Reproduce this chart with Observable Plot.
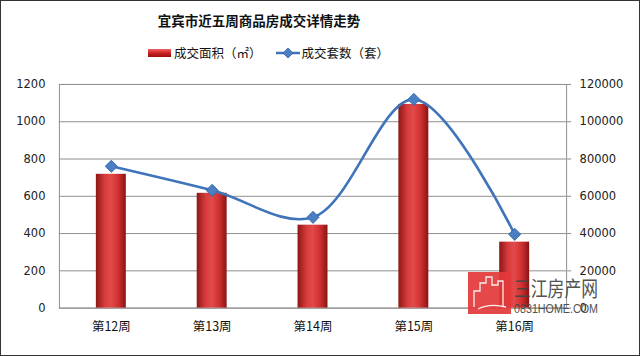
<!DOCTYPE html>
<html>
<head>
<meta charset="utf-8">
<script src="https://cdn.jsdelivr.net/npm/d3@7"></script>
<script src="https://cdn.jsdelivr.net/npm/@observablehq/plot@0.6"></script>
<style>
  html, body { margin: 0; padding: 0; background: #fff; }
  #wrap { position: relative; width: 640px; height: 356px; box-sizing: border-box; border: 1px solid #333; overflow: hidden; background: #fff; font-family: "Noto Sans CJK SC", sans-serif; }
  #title { position: absolute; left: 0; width: 516px; top: 8px; text-align: center; font-size: 13.5px; font-weight: bold; color: #111; line-height: 22px; }
  #legend { position: absolute; top: 43px; left: 147px; height: 18px; font-size: 12.5px; color: #111; line-height: 18px; white-space: nowrap; }
  #chart { position: absolute; left: -1px; top: 65px; }
  #wm { position: absolute; left: 467px; top: 270px; }
</style>
</head>
<body>
<div id="wrap">
  <div id="title">宜宾市近五周商品房成交详情走势</div>
  <div id="legend"></div>
  <div id="chart"></div>
  <svg id="wm" width="135" height="46" viewBox="0 0 135 46">
    <rect x="0" y="1" width="43" height="42" fill="#e2383a" opacity="0.92"></rect>
    <path d="M6,36 L6,20 L12,20 L12,12 L18,12 L18,6 L24,6 L24,14 L30,14 L30,10 L35,10 L35,36" fill="none" stroke="#fff" stroke-width="1.3" opacity="0.9"></path>
    <path d="M10,38 Q22,32 38,36" fill="none" stroke="#fff" stroke-width="1.3" opacity="0.9"></path>
    <text x="46" y="25" font-family="Noto Sans CJK SC" font-size="21" fill="#444" textLength="84" lengthAdjust="spacingAndGlyphs" opacity="0.92">三江房产网</text>
    <text x="46" y="42" font-family="Liberation Sans" font-size="13" fill="#444" textLength="84" lengthAdjust="spacingAndGlyphs" opacity="0.92">0831HOME.COM</text>
  </svg>
</div>
<script>
const weeks = ["第12周", "第13周", "第14周", "第15周", "第16周"];
const areaValues = [718, 616, 445, 1093, 354];          // 成交面积（㎡）
const unitValues = [76100, 63200, 48700, 112000, 39600]; // 成交套数（套）
const leftTicks = [0, 200, 400, 600, 800, 1000, 1200];
const rightTicks = [0, 20000, 40000, 60000, 80000, 100000, 120000];
const seriesNames = ["成交面积（㎡）", "成交套数（套）"];

const ratio = rightTicks[rightTicks.length - 1] / leftTicks[leftTicks.length - 1];
const data = weeks.map((w, i) => ({ week: w, area: areaValues[i], units: unitValues[i] }));

// legend
const legend = document.getElementById("legend");
legend.innerHTML =
  `<span style="display:inline-block;width:23px;height:8px;vertical-align:middle;margin-right:3px;margin-top:-3px;background:linear-gradient(180deg,#e66,#c22 50%,#911);"></span>` +
  `<span>${seriesNames[0]}</span>` +
  `<svg width="24" height="12" style="vertical-align:middle;margin-left:14px;margin-right:2px;margin-top:-3px"><line x1="0" y1="6" x2="24" y2="6" stroke="#3f74ba" stroke-width="2.5"/><path d="M12,1 L17,6 L12,11 L7,6 Z" fill="#4a7fc4" stroke="#2f5f9e" stroke-width="0.8"/></svg>` +
  `<span>${seriesNames[1]}</span>`;

const chart = Plot.plot({
  width: 640,
  height: 291,
  marginLeft: 59,
  marginRight: 73,
  marginTop: 18,
  marginBottom: 49,
  style: { fontFamily: "DejaVu Sans", fontSize: "11.5px", color: "#222", background: "transparent", overflow: "visible" },
  x: { domain: weeks, paddingInner: 0.7, paddingOuter: 0.35, align: 0.5, label: null, axis: null },
  y: { domain: [0, 1200], label: null, axis: null },
  marks: [
    Plot.gridY(leftTicks, { stroke: "#8f8f8f", strokeOpacity: 1 }),
    Plot.frame({ stroke: "#8f8f8f" }),
    Plot.axisY(leftTicks, { anchor: "left", tickSize: 0, tickPadding: 14, tickFormat: d => String(d), label: null }),
    Plot.axisY(rightTicks.map(v => v / ratio), { anchor: "right", tickSize: 4, tickPadding: 9, stroke: "#8f8f8f", tickFormat: d => String(Math.round(d * ratio)), label: null }),
    Plot.barY(data, { x: "week", y: "area", fill: "url(#barGrad)" }),
    Plot.lineY(data, { x: "week", y: d => d.units / ratio, curve: "catmull-rom", stroke: "#3f74ba", strokeWidth: 2.6 }),
    Plot.dot(data, { x: "week", y: d => d.units / ratio, symbol: "diamond2", r: 5.5, fill: "#4a7fc4", stroke: "#2f5f9e", strokeWidth: 0.8 }),
    Plot.axisX({ anchor: "bottom", tickSize: 0, tickPadding: 14, fontFamily: "Noto Sans CJK SC", fontSize: 12.5, fill: "#111", label: null })
  ]
});

const defs = d3.select(chart).insert("defs", ":first-child");
const g = defs.append("linearGradient").attr("id", "barGrad").attr("x1", "0").attr("x2", "1").attr("y1", "0").attr("y2", "0");
[["0%", "#8e1616"], ["30%", "#d83c3c"], ["50%", "#e24a4a"], ["75%", "#cf3030"], ["100%", "#8a1414"]]
  .forEach(([o, c]) => g.append("stop").attr("offset", o).attr("stop-color", c));

document.getElementById("chart").appendChild(chart);
</script>
</body>
</html>
